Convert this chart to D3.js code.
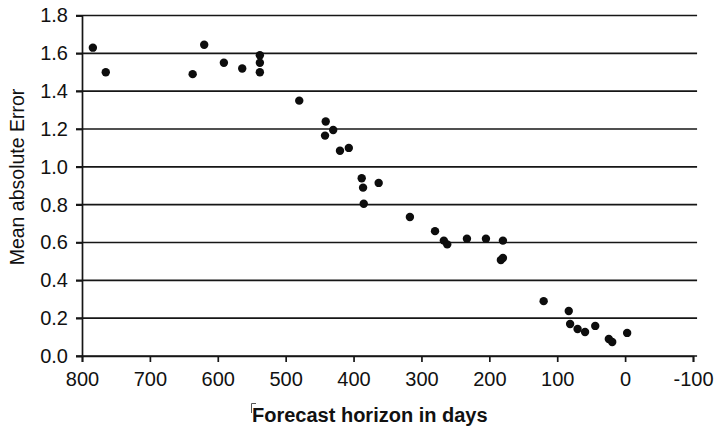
<!DOCTYPE html>
<html>
<head>
<meta charset="utf-8">
<script src="https://cdn.jsdelivr.net/npm/d3@7"></script>
<style>
  body { margin: 0; background: #fff; }
  svg { display: block; font-family: "Liberation Sans", Arial, sans-serif; }
</style>
</head>
<body>
<div id="chart"></div>
<script>
// forecast horizon (days) and mean absolute error
const horizon = [784, 765, 637, 620, 591, 564, 538, 538, 538, 480, 441, 430, 442, 420, 407,
  388, 363, 386, 385, 317, 280, 267, 262, 233, 205, 180, 183, 180,
  120, 83, 81, 70, 59, 44, 24, 19, -3];
const mae = [1.63, 1.50, 1.49, 1.645, 1.55, 1.52, 1.59, 1.55, 1.50, 1.35, 1.24, 1.195, 1.165, 1.085, 1.10,
  0.94, 0.915, 0.89, 0.805, 0.735, 0.66, 0.61, 0.59, 0.62, 0.62, 0.61, 0.507, 0.518,
  0.29, 0.238, 0.169, 0.143, 0.127, 0.159, 0.09, 0.074, 0.122];
const xTicks = [800, 700, 600, 500, 400, 300, 200, 100, 0, -100];
const yTicks = [0, 0.2, 0.4, 0.6, 0.8, 1.0, 1.2, 1.4, 1.6, 1.8];

const svgWidth = 715, svgHeight = 428;
const margin = { top: 15.5, left: 82, right: 22, bottom: 72 };

const svg = d3.select('#chart').append('svg')
  .attr('width', svgWidth)
  .attr('height', svgHeight);

const x = d3.scaleLinear().domain([800, -100]).range([margin.left, svgWidth - margin.right]);
const y = d3.scaleLinear().domain([0, 1.8]).range([svgHeight - margin.bottom, margin.top]);

const ink = '#161616';

// horizontal gridlines (extend a bit past the last tick)
svg.append('g').selectAll('line')
  .data(yTicks)
  .join('line')
  .attr('x1', x(800) - 6)
  .attr('x2', x(-106))
  .attr('y1', d => y(d))
  .attr('y2', d => y(d))
  .attr('stroke', ink)
  .attr('stroke-width', 1.7);

// y axis
const yAxis = svg.append('g')
  .attr('transform', `translate(${x(800)},0)`)
  .call(d3.axisLeft(y).tickValues(yTicks).tickFormat(d3.format('.1f')).tickSize(6).tickPadding(8));
yAxis.select('.domain').attr('stroke', ink).attr('stroke-width', 1.7);
yAxis.selectAll('.tick line').attr('stroke', ink).attr('stroke-width', 1.7);
yAxis.selectAll('.tick text').attr('font-size', 20).attr('fill', '#111');

// x axis (plain hyphen for negatives, as in the original)
const xAxis = svg.append('g')
  .attr('transform', `translate(0,${y(0)})`)
  .call(d3.axisBottom(x).tickValues(xTicks).tickFormat(d => String(d)).tickSize(6).tickSizeOuter(6).tickPadding(10));
xAxis.select('.domain').attr('stroke', ink).attr('stroke-width', 1.7);
xAxis.selectAll('.tick line').attr('stroke', ink).attr('stroke-width', 1.7);
xAxis.selectAll('.tick text').attr('font-size', 20).attr('fill', '#111');

// points
svg.append('g').selectAll('circle')
  .data(horizon.map((h, i) => ({ h, v: mae[i] })))
  .join('circle')
  .attr('cx', d => x(d.h))
  .attr('cy', d => y(d.v))
  .attr('r', 4.2)
  .attr('fill', '#0d0d0d');

// axis titles
svg.append('text')
  .attr('transform', 'translate(24,177) rotate(-90)')
  .attr('text-anchor', 'middle')
  .attr('font-size', 19.5)
  .attr('fill', '#111')
  .text('Mean absolute Error');

svg.append('text')
  .attr('x', 252)
  .attr('y', 422)
  .attr('font-size', 20)
  .attr('font-weight', 'bold')
  .attr('fill', '#111')
  .text('Forecast horizon in days');

// small corner mark left over from the scanned text box
svg.append('path')
  .attr('d', 'M251.5,413 V403.5 H256')
  .attr('fill', 'none')
  .attr('stroke', '#555')
  .attr('stroke-width', 1);
</script>
</body>
</html>
